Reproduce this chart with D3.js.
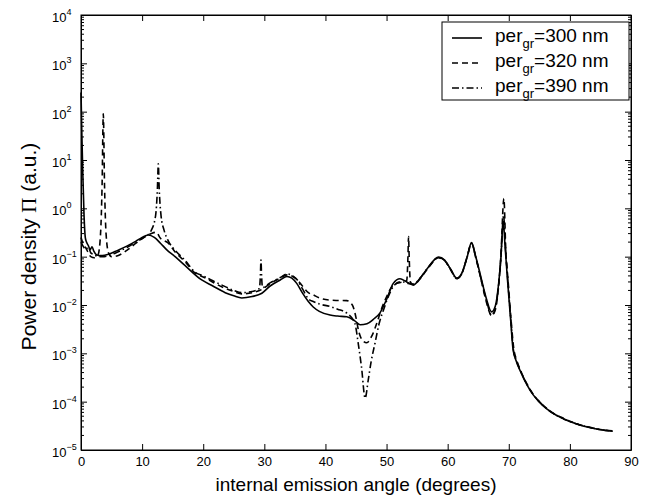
<!DOCTYPE html>
<html>
<head>
<meta charset="utf-8">
<script src="https://d3js.org/d3.v7.min.js"></script>
<style>
body { margin: 0; background: #fff; }
text { font-family: "Liberation Sans", Arial, Helvetica, sans-serif; fill: #000; }
</style>
</head>
<body>
<svg id="chart"></svg>
<script>

// per_gr = 300 nm (solid)
var angles300 = [0, 0.15, 0.3, 0.5, 0.7, 0.9, 1.2, 1.5, 1.8, 2.1, 2.5, 3.0, 3.5, 4.5, 6, 7.5, 9, 10, 11, 12, 13, 14,
  15.4, 17, 19.75, 21.5, 23.6, 25, 26.3, 28, 29.6, 31, 32.6, 33.7, 34.5, 35.3, 36.2, 37.2, 38, 39, 40.75, 42, 43.5,
  44.8, 45.7, 46.8, 47.8, 48.9, 50, 51.1, 52.2, 53.3, 54.4, 55.5, 56.8, 58.5, 59.5, 60.5, 61.5, 62.3, 63.2, 63.9,
  64.6, 65.5, 66.3, 67.2, 67.8, 68.3, 68.7, 69.1, 69.4, 69.8, 70.3, 70.7, 71.2, 72, 73, 74, 75.5, 77, 79, 81, 83, 85, 87];
var power300 = [250, 30, 5, 0.7, 0.25, 0.2, 0.17, 0.14, 0.16, 0.13, 0.11, 0.105, 0.105, 0.112, 0.135, 0.165, 0.21, 0.25, 0.28, 0.25, 0.19, 0.14,
  0.1, 0.066, 0.033, 0.025, 0.018, 0.0155, 0.014, 0.015, 0.0175, 0.025, 0.033, 0.039, 0.036, 0.028, 0.018, 0.0118, 0.0091, 0.0074, 0.0062, 0.0059, 0.0057,
  0.0047, 0.0039, 0.0041, 0.005, 0.0068, 0.013, 0.028, 0.035, 0.03, 0.026, 0.036, 0.06, 0.098, 0.085, 0.055, 0.036, 0.045, 0.1, 0.195,
  0.1, 0.035, 0.014, 0.0072, 0.0095, 0.025, 0.09, 0.52, 0.16, 0.032, 0.005, 0.0012, 0.0007, 0.0004, 0.00022, 0.000138, 0.000085, 0.00006, 0.000044, 0.000035, 0.0000295, 0.0000263, 0.0000245];

// per_gr = 320 nm (dashed)
var angles320 = [0, 0.4, 0.8, 1.2, 1.6, 2.2, 2.8, 3.2, 3.45, 3.65, 3.85, 4.1, 4.5, 5, 6, 7.5, 9, 10.5, 11.5, 12.3, 13, 14.3,
  15.4, 17, 18.65, 20, 21.5, 23.6, 25, 26.3, 28, 29.6, 31, 32.6, 33.7, 34.5, 35.3, 36.2, 37.2, 38, 39, 40.75, 42, 43.5,
  44.4, 45, 45.4, 46, 46.75, 47.6, 48.4, 49.2, 50, 50.9, 51.7, 52.7, 53.3, 53.5, 53.6, 53.7, 53.9, 54.4, 55.5, 56.8,
  58.5, 59.5, 60.5, 61.5, 62.3, 63.2, 63.9, 64.6, 65.5, 66.3, 67.2, 67.8, 68.3, 68.7, 69.2, 69.5, 69.9, 70.4, 70.8,
  71.3, 72, 73, 74, 75.5, 77, 79, 81, 83, 85, 87];
var power320 = [0.25, 0.18, 0.15, 0.12, 0.1, 0.095, 0.11, 0.3, 3, 90, 3, 0.3, 0.12, 0.1, 0.105, 0.135, 0.19, 0.26, 0.3, 0.32, 0.24, 0.19,
  0.125, 0.08, 0.046, 0.038, 0.03, 0.022, 0.019, 0.017, 0.018, 0.021, 0.028, 0.036, 0.042, 0.04, 0.034, 0.025, 0.018, 0.0162, 0.014, 0.0126, 0.0124, 0.0123,
  0.01, 0.0055, 0.003, 0.0019, 0.00166, 0.0023, 0.0042, 0.0085, 0.0148, 0.024, 0.028, 0.03, 0.032, 0.1, 0.26, 0.1, 0.03, 0.026, 0.035, 0.058,
  0.095, 0.083, 0.053, 0.035, 0.044, 0.1, 0.19, 0.095, 0.032, 0.012, 0.006, 0.008, 0.022, 0.1, 1.6, 0.15, 0.03, 0.0045, 0.0013,
  0.00072, 0.00042, 0.00023, 0.000142, 0.000087, 0.000061, 0.000045, 0.0000355, 0.00003, 0.0000266, 0.0000248];

// per_gr = 390 nm (dash-dot)
var angles390 = [0, 0.4, 0.8, 1.2, 1.6, 2.2, 2.8, 3.5, 4.5, 6, 7.5, 9, 10.5, 11.5, 12.2, 12.5, 12.65, 12.8, 13.1, 13.6, 14.3,
  15.4, 17, 18.65, 20, 21.5, 23.6, 25, 26.3, 28, 29.2, 29.35, 29.45, 29.55, 29.7, 31, 32.6, 33.7, 34.5, 35.3, 36.2, 37.2,
  38, 39, 40.75, 42, 43.5, 44.8, 45.4, 45.9, 46.5, 47, 47.5, 48.1, 48.8, 49.5, 50.3, 51.1, 52, 52.7, 53.5, 54.4, 55.5,
  56.8, 58.5, 59.5, 60.5, 61.5, 62.3, 63.2, 63.9, 64.6, 65.5, 66.3, 67.2, 67.8, 68.3, 68.7, 69.15, 69.45, 69.85, 70.35,
  70.75, 71.25, 72, 73, 74, 75.5, 77, 79, 81, 83, 85, 87];
var power390 = [0.2, 0.16, 0.14, 0.16, 0.12, 0.11, 0.1, 0.1, 0.105, 0.125, 0.155, 0.2, 0.26, 0.35, 0.7, 2.5, 8.3, 2.5, 0.7, 0.35, 0.21,
  0.135, 0.085, 0.048, 0.04, 0.032, 0.024, 0.02, 0.018, 0.019, 0.022, 0.04, 0.085, 0.04, 0.023, 0.029, 0.037, 0.044, 0.041, 0.034, 0.022, 0.0135,
  0.0118, 0.0105, 0.0093, 0.0082, 0.0068, 0.0042, 0.0015, 0.00052, 0.000118, 0.00028, 0.0007, 0.0016, 0.0042, 0.0079, 0.015, 0.024, 0.03, 0.03, 0.028, 0.027, 0.036,
  0.059, 0.096, 0.084, 0.054, 0.035, 0.044, 0.1, 0.19, 0.097, 0.033, 0.013, 0.0062, 0.0085, 0.023, 0.09, 0.7, 0.16, 0.031, 0.0048, 0.0012,
  0.0007, 0.00041, 0.000225, 0.00014, 0.000086, 0.00006, 0.000044, 0.000035, 0.0000298, 0.0000264, 0.0000246];

var xTicks = [0, 10, 20, 30, 40, 50, 60, 70, 80, 90];
var yExponents = [-5, -4, -3, -2, -1, 0, 1, 2, 3, 4];
var legendLabels = ["=300 nm", "=320 nm", "=390 nm"];
var dashes = [null, "6,4", "7,3,1.5,3"];

var margin = {top: 15, right: 16, bottom: 48, left: 81},
    width = 647 - margin.left - margin.right,
    height = 498 - margin.top - margin.bottom;

var x = d3.scaleLinear().domain([0, 90]).range([0, width]);
var y = d3.scaleLog().domain([1e-5, 1e4]).range([height, 0]);

var svg = d3.select("#chart")
    .attr("width", 647)
    .attr("height", 498)
  .append("g")
    .attr("transform", "translate(" + margin.left + "," + margin.top + ")");

var series = [
  d3.zip(angles300, power300),
  d3.zip(angles320, power320),
  d3.zip(angles390, power390)
];

var line = d3.line()
    .x(function(d) { return x(d[0]); })
    .y(function(d) { return y(d[1]); })
    .curve(d3.curveMonotoneX);

svg.selectAll("path.curve")
    .data(series)
  .enter().append("path")
    .attr("class", "curve")
    .attr("d", line)
    .attr("fill", "none")
    .attr("stroke", "#000")
    .attr("stroke-width", 1.6)
    .attr("stroke-dasharray", function(d, i) { return dashes[i]; });

// axes, ticks inside like matlab
var yMajor = yExponents.map(function(e) { return Math.pow(10, e); });

svg.append("g")
    .attr("class", "x axis")
    .attr("transform", "translate(0," + height + ")")
    .call(d3.axisBottom(x).tickValues(xTicks).tickSizeInner(-6).tickSizeOuter(0).tickPadding(7));

svg.append("g")
    .attr("class", "x axis top")
    .call(d3.axisTop(x).tickValues(xTicks).tickSizeInner(-6).tickSizeOuter(0).tickFormat(""));

svg.append("g")
    .attr("class", "y axis")
    .call(d3.axisLeft(y).tickValues(yMajor).tickSizeInner(-6).tickSizeOuter(0).tickFormat(""));

svg.append("g")
    .attr("class", "y axis right")
    .attr("transform", "translate(" + width + ",0)")
    .call(d3.axisRight(y).tickValues(yMajor).tickSizeInner(-6).tickSizeOuter(0).tickFormat(""));

svg.selectAll(".axis text")
    .attr("font-size", 13)
    .attr("font-family", "Liberation Sans, Arial, sans-serif");

svg.selectAll(".axis path, .axis line").attr("stroke", "#000");

// minor log ticks
var yMinor = [];
yExponents.slice(0, -1).forEach(function(e) {
  for (var m = 2; m < 10; m++) yMinor.push(m * Math.pow(10, e));
});

svg.append("g").selectAll("line")
    .data(yMinor)
  .enter().append("line")
    .attr("x1", 0).attr("x2", 3)
    .attr("y1", function(d) { return y(d); })
    .attr("y2", function(d) { return y(d); })
    .attr("stroke", "#000");

svg.append("g").selectAll("line")
    .data(yMinor)
  .enter().append("line")
    .attr("x1", width - 3).attr("x2", width)
    .attr("y1", function(d) { return y(d); })
    .attr("y2", function(d) { return y(d); })
    .attr("stroke", "#000");

svg.append("rect")
    .attr("width", width)
    .attr("height", height)
    .attr("fill", "none")
    .attr("stroke", "#000");

// y tick labels 10^n
var yLab = svg.append("g").selectAll("text")
    .data(yExponents)
  .enter().append("text")
    .attr("x", -29)
    .attr("y", function(d) { return y(Math.pow(10, d)) + 7; })
    .attr("font-size", 13)
    .text("10");

yLab.append("tspan")
    .attr("dy", -7)
    .attr("font-size", 9)
    .text(function(d) { return d < 0 ? "\u2212" + (-d) : d; });

svg.append("text")
    .attr("x", width / 2)
    .attr("y", height + 41)
    .attr("text-anchor", "middle")
    .attr("font-size", 19)
    .text("internal emission angle (degrees)");

var yTitle = svg.append("text")
    .attr("transform", "translate(-45," + (height / 2 + 14) + ") rotate(-90)")
    .attr("text-anchor", "middle")
    .attr("font-size", 21);
yTitle.append("tspan").text("Power density ");
yTitle.append("tspan").attr("font-family", "Liberation Serif, serif").text("\u03A0");
yTitle.append("tspan").text(" (a.u.)");

// legend
var legend = svg.append("g")
    .attr("transform", "translate(" + (442 - margin.left) + "," + (22 - margin.top) + ")");

legend.append("rect")
    .attr("width", 187)
    .attr("height", 78)
    .attr("fill", "#fff")
    .attr("stroke", "#000");

var rows = legend.selectAll("g.row")
    .data(legendLabels)
  .enter().append("g")
    .attr("class", "row")
    .attr("transform", function(d, i) { return "translate(0," + (20 + i * 25) + ")"; });

rows.append("line")
    .attr("x1", 10).attr("x2", 40)
    .attr("y1", -4).attr("y2", -4)
    .attr("stroke", "#000")
    .attr("stroke-width", 1.6)
    .attr("stroke-dasharray", function(d, i) { return dashes[i]; });

var rowText = rows.append("text")
    .attr("x", 53)
    .attr("font-size", 19);
rowText.append("tspan").text("per");
rowText.append("tspan").attr("dy", 6).attr("font-size", 13).text("gr");
rowText.append("tspan").attr("dy", -6).text(function(d) { return d; });

</script>
</body>
</html>
